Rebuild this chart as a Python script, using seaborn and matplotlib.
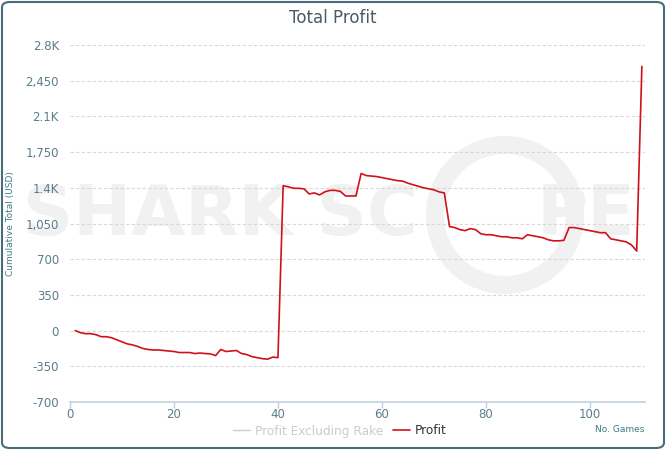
import matplotlib
matplotlib.use("Agg")
import matplotlib.pyplot as plt
from matplotlib.patches import FancyBboxPatch, Ellipse
from matplotlib.lines import Line2D
import seaborn as sns
import pandas as pd

games = list(range(1, 111))
profit = [0, -20, -30, -30, -40, -60, -60, -70, -90, -110,
          -130, -140, -155, -175, -185, -190, -190, -195, -200, -205,
          -215, -215, -215, -225, -220, -225, -228, -245, -185, -205,
          -200, -195, -225, -235, -255, -265, -275, -280, -260, -265,
          1420, 1410, 1395, 1395, 1390, 1340, 1350, 1330, 1360, 1375,
          1375, 1365, 1320, 1320, 1320, 1540, 1520, 1515, 1510, 1500,
          1490, 1480, 1470, 1465, 1445, 1430, 1415, 1400, 1390, 1380,
          1360, 1350, 1020, 1010, 990, 980, 1000, 990, 950, 940,
          940, 930, 920, 920, 910, 910, 900, 940, 930, 920,
          910, 890, 880, 880, 885, 1010, 1010, 1000, 990, 980,
          970, 960, 960, 900, 890, 880, 870, 840, 780, 2590]
y_ticks = [-700, -350, 0, 350, 700, 1050, 1400, 1750, 2100, 2450, 2800]
y_labels = ["-700", "-350", "0", "350", "700", "1,050", "1.4K", "1,750", "2.1K", "2,450", "2.8K"]
x_ticks = [0, 20, 40, 60, 80, 100]

df = pd.DataFrame({"games": games, "profit": profit})

sns.set_theme(style="white")
plt.rcParams['font.family'] = ['DejaVu Sans']

fig = plt.figure(figsize=(6.66, 4.5), dpi=100)
fig.patch.set_facecolor("white")

# border
border = FancyBboxPatch((2/666, 2/450), 662/666, 446/450,
                        boxstyle="round,pad=0,rounding_size=0.012",
                        transform=fig.transFigure, facecolor="white",
                        edgecolor="#4a6b78", linewidth=1.5, zorder=-5)
fig.patches.append(border)

# faint watermark
wm = "#f1f1f1"
fig.text(0.035, 1 - 215/450, "SHARK SC", fontsize=50, fontweight="bold", color=wm,
         ha="left", va="center", zorder=-4)
fig.text(0.805, 1 - 215/450, "PE", fontsize=50, fontweight="bold", color=wm,
         ha="left", va="center", zorder=-4)
circ = Ellipse((505/666, 1 - 215/450), 140/666, 140/450, transform=fig.transFigure,
               facecolor="none", edgecolor=wm, linewidth=13, zorder=-4)
fig.patches.append(circ)

ax = fig.add_axes([70/666, 1 - 402/450, 575/666, 357/450])
ax.set_facecolor("none")
ax.set_zorder(2)

sns.lineplot(data=df, x="games", y="profit", ax=ax, color="#d0111b",
             linewidth=1.2, zorder=3)

ax.set_xlim(0, 110.6)
ax.set_ylim(-700, 2800)
ax.set_yticks(y_ticks)
ax.set_yticklabels(y_labels)
ax.set_xticks(x_ticks)
ax.tick_params(axis="y", length=0, labelsize=8.5, labelcolor="#5a7d8a", pad=8)
ax.tick_params(axis="x", length=4, width=1, color="#c0d0e0", direction="out",
               labelsize=8.5, labelcolor="#5a7d8a", pad=0.5, bottom=True)
for y in y_ticks[1:]:
    ax.axhline(y, color="#d8d8d8", linestyle=(0, (3, 2)), linewidth=0.8, zorder=1)
for s in ["top", "right", "left"]:
    ax.spines[s].set_visible(False)
ax.spines["bottom"].set_color("#c0d0e0")
ax.spines["bottom"].set_linewidth(1.2)
ax.set_xlabel("")
ax.set_ylabel("Cumulative Total (USD)", fontsize=6.5, color="#3f7a8a")
ax.yaxis.set_label_coords(-0.096, 0.5)

fig.text(0.5, 1 - 18/450, "Total Profit", fontsize=12, color="#4d5a66",
         ha="center", va="center")
fig.text(620/666, 1 - 429/450, "No. Games", fontsize=6.5, color="#3f7a8a",
         ha="center", va="center")

handles = [Line2D([], [], color="#cccccc", linewidth=1),
           Line2D([], [], color="#d0111b", linewidth=1.2)]
leg = fig.legend(handles, ["Profit Excluding Rake", "Profit"], loc="center",
                 bbox_to_anchor=(0.51, 1 - 431/450), ncol=2, frameon=False,
                 fontsize=8.7, handlelength=1.4, columnspacing=0.8,
                 handletextpad=0.4, borderpad=0.1)
texts = leg.get_texts()
texts[0].set_color("#cccccc")
texts[1].set_color("#333333")

fig.savefig("out.png", dpi=100)
